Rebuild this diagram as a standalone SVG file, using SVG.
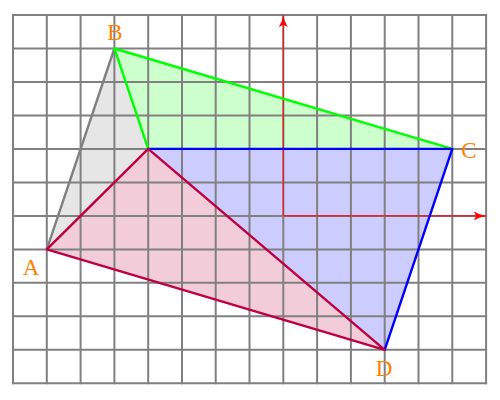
<svg xmlns="http://www.w3.org/2000/svg" width="500" height="400" viewBox="0 0 500 400">
<style>
.grid{stroke:#808080;stroke-width:2;fill:none;stroke-linecap:square}
.axis{stroke:#ff0000;stroke-width:1;fill:none}
.edge{stroke-width:2.4;fill:none;stroke-linecap:round;stroke-linejoin:round}
.lbl{font-family:"Liberation Serif","Times New Roman",serif;font-size:23px;fill:#ff8000;text-anchor:middle}
</style>
<defs>
<marker id="arr" viewBox="0 0 10 8" refX="10" refY="4" markerWidth="12" markerHeight="9.6" markerUnits="userSpaceOnUse" orient="auto">
<path d="M0,0.3 Q5,3.4 10,4 Q5,4.6 0,7.7 L1.8,4 z" fill="#ff0000"/>
</marker>
</defs>
<g id="fills">
<polygon points="46.8,249.4 114.4,48.5 148.2,148.9" fill="#e6e6e6"/>
<polygon points="114.4,48.5 452.3,148.9 148.2,148.9" fill="#ccffcc"/>
<polygon points="148.2,148.9 452.3,148.9 384.7,349.8" fill="#ccccff"/>
<polygon points="46.8,249.4 148.2,148.9 384.7,349.8" fill="#f2ccd9"/>
</g>
<g id="grid">
<path class="grid" d="M13,15V383.3M46.8,15V383.3M80.6,15V383.3M114.4,15V383.3M148.2,15V383.3M182,15V383.3M215.7,15V383.3M249.5,15V383.3M283.3,15V383.3M317.1,15V383.3M350.9,15V383.3M384.7,15V383.3M418.5,15V383.3M452.3,15V383.3M486.1,15V383.3"/>
<path class="grid" d="M13,15H486.1M13,48.5H486.1M13,82H486.1M13,115.4H486.1M13,148.9H486.1M13,182.4H486.1M13,215.9H486.1M13,249.4H486.1M13,282.8H486.1M13,316.3H486.1M13,349.8H486.1M13,383.3H486.1"/>
</g>
<g id="connectors">
<line class="axis" x1="283.3" y1="215.9" x2="283.3" y2="15" marker-end="url(#arr)"/>
<line class="axis" x1="283.3" y1="215.9" x2="486" y2="215.9" marker-end="url(#arr)"/>
<path class="edge" stroke="#808080" d="M46.8,249.4L114.4,48.5"/>
<path class="edge" stroke="#00ff00" d="M148.2,148.9L114.4,48.5L452.3,148.9"/>
<path class="edge" stroke="#0000ff" d="M148.2,148.9L452.3,148.9L384.7,349.8"/>
<path class="edge" stroke="#bf0040" d="M148.2,148.9L46.8,249.4L384.7,349.8Z"/>
</g>
<g id="A"><text class="lbl" x="31" y="275">A</text></g>
<g id="B"><text class="lbl" x="115" y="40">B</text></g>
<g id="C"><text class="lbl" x="469" y="158">C</text></g>
<g id="D"><text class="lbl" x="384" y="376">D</text></g>
</svg>
